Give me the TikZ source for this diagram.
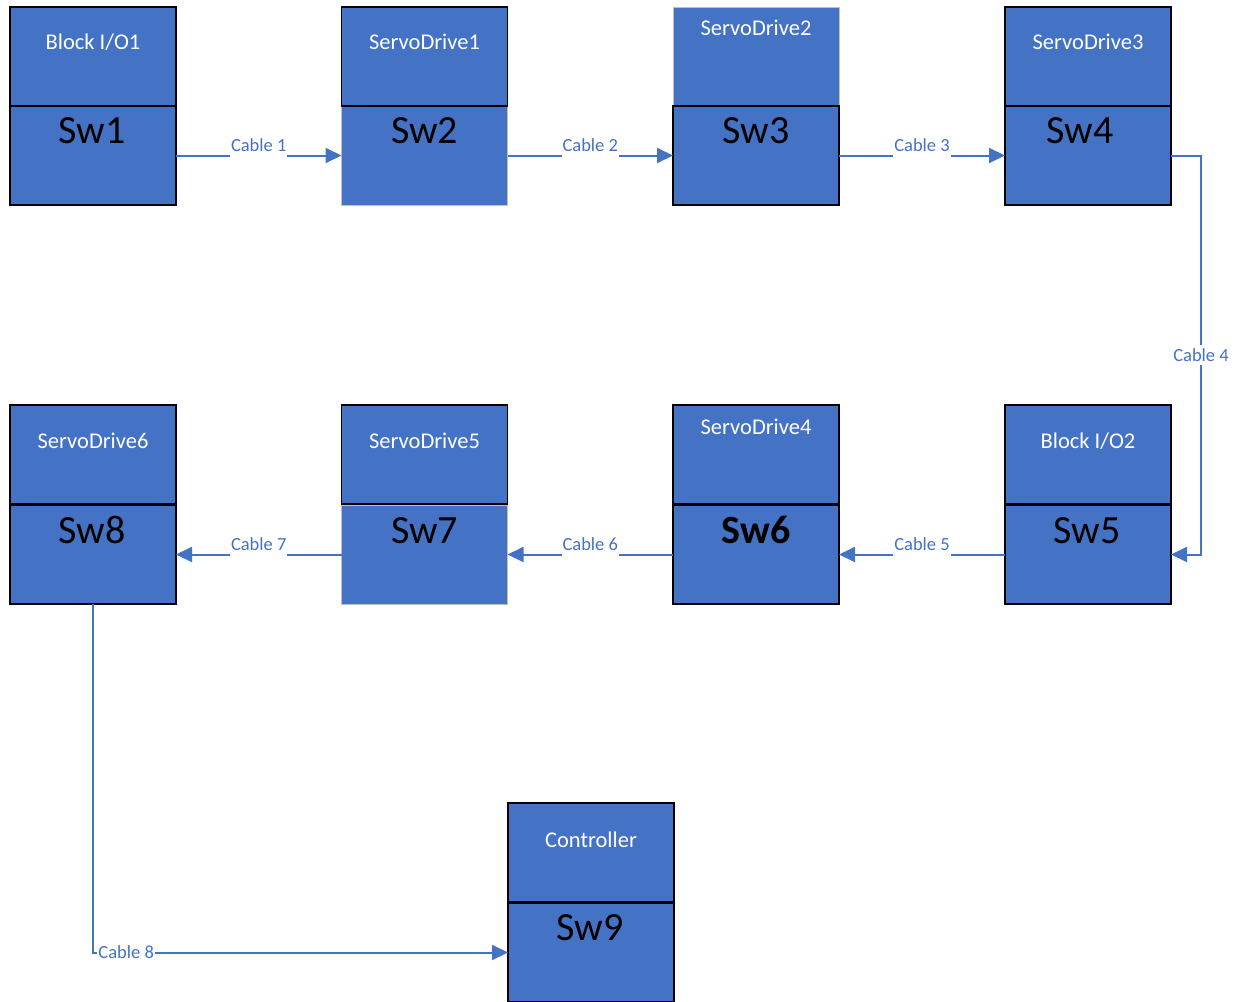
\documentclass[tikz,border=0pt]{standalone}
\usepackage{fontspec}
\setmainfont{Carlito}
\usetikzlibrary{arrows.meta}
\definecolor{boxblue}{HTML}{4472C4}
\definecolor{lineblue}{HTML}{4472C4}
\tikzset{
  devk/.style={draw=black, line width=1.8pt, fill=boxblue, minimum width=166pt, minimum height=99pt, inner sep=0pt, outer sep=0pt, anchor=north},
  devg/.style={draw=black!25, line width=0.8pt, fill=boxblue, minimum width=166pt, minimum height=99pt, inner sep=0pt, outer sep=0pt, anchor=north},
  tlab/.style={text=white, font=\fontsize{22.5}{24}\selectfont, anchor=base, inner sep=0pt},
  swlab/.style={text=black, font=\fontsize{40}{44}\selectfont, anchor=base, inner sep=0pt},
  cab/.style={draw=lineblue, line width=2pt, -{Triangle[length=16pt,width=15pt]}},
  clab/.style={fill=white, text=lineblue, font=\fontsize{18.5}{20}\selectfont, inner xsep=1pt, inner ysep=6pt, anchor=base, yshift=4pt},
  clabc/.style={fill=white, text=lineblue, font=\fontsize{18.5}{20}\selectfont, inner xsep=1pt, inner ysep=4pt, anchor=center}
}
\begin{document}
\begin{tikzpicture}[x=1pt,y=-1pt]
\useasboundingbox (0,0) rectangle (1236,1001);
% gray-bordered boxes first
\node[devg] (s2) at (424.5,106) {};
\node[devg] (t3) at (756,7) {};
\node[devg] (s7) at (424.5,505) {};
% black-bordered boxes
\node[devk] (t1) at (93,7) {};
\node[devk] (s1) at (93,106) {};
\node[devk] (t2) at (424.5,7) {};
\node[devk] (s3) at (756,106) {};
\node[devk] (t4) at (1088,7) {};
\node[devk] (s4) at (1088,106) {};
\node[devk] (t8) at (93,405) {};
\node[devk] (s8) at (93,505) {};
\node[devk] (t7) at (424.5,405) {};
\node[devk] (t6) at (756,405) {};
\node[devk] (s6) at (756,505) {};
\node[devk] (t5) at (1088,405) {};
\node[devk] (s5) at (1088,505) {};
\node[devk] (t9) at (591,803) {};
\node[devk] (s9) at (591,903) {};
% device labels
\node[tlab] (l1) at ([yshift=-42pt]t1.north) {Block I/O1};
\node[tlab] (l2) at ([yshift=-42pt]t2.north) {ServoDrive1};
\node[tlab] (l3) at ([yshift=-28pt]t3.north) {ServoDrive2};
\node[tlab] (l4) at ([yshift=-42pt]t4.north) {ServoDrive3};
\node[tlab] (l8) at ([yshift=-43pt]t8.north) {ServoDrive6};
\node[tlab] (l7) at ([yshift=-43pt]t7.north) {ServoDrive5};
\node[tlab] (l6) at ([yshift=-29pt]t6.north) {ServoDrive4};
\node[tlab] (l5) at ([yshift=-43pt]t5.north) {Block I/O2};
\node[tlab] (l9) at ([yshift=-44pt]t9.north) {Controller};
% switch labels
\node[swlab] (w1) at ([yshift=-37.5pt,xshift=-1pt]s1.north) {Sw1};
\node[swlab] (w2) at ([yshift=-37.5pt]s2.north) {Sw2};
\node[swlab] (w3) at ([yshift=-37.5pt]s3.north) {Sw3};
\node[swlab] (w4) at ([yshift=-37.5pt,xshift=-8pt]s4.north) {Sw4};
\node[swlab] (w8) at ([yshift=-38pt,xshift=-1pt]s8.north) {Sw8};
\node[swlab] (w7) at ([yshift=-38pt]s7.north) {Sw7};
\node[swlab,font=\fontsize{40}{44}\selectfont\bfseries] (w6) at ([yshift=-38pt]s6.north) {Sw6};
\node[swlab] (w5) at ([yshift=-38pt,xshift=-1pt]s5.north) {Sw5};
\node[swlab] (w9) at ([yshift=-37pt,xshift=-1pt]s9.north) {Sw9};
% cables
\draw[cab] (s1.east) -- node[clab] (c1) {Cable 1} (s2.west);
\draw[cab] (s2.east) -- node[clab] (c2) {Cable 2} (s3.west);
\draw[cab] (s3.east) -- node[clab] (c3) {Cable 3} (s4.west);
\draw[cab] (s4.east) -- ++(30,0) |- node[clabc, pos=0.25] (c4) {Cable 4} (s5.east);
\draw[cab] (s5.west) -- node[clab] (c5) {Cable 5} (s6.east);
\draw[cab] (s6.west) -- node[clab] (c6) {Cable 6} (s7.east);
\draw[cab] (s7.west) -- node[clab] (c7) {Cable 7} (s8.east);
\draw[cab] (s8.south) |- node[clabc, pos=0.54] (c8) {Cable 8} (s9.west);
\end{tikzpicture}
\end{document}
